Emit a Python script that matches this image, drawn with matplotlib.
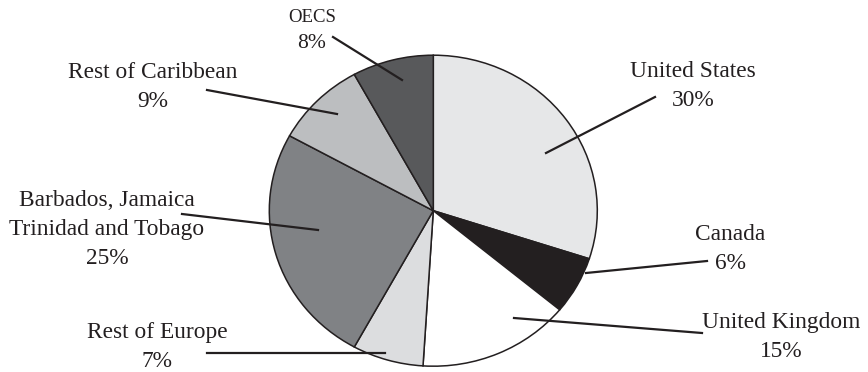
import matplotlib
matplotlib.use("Agg")
import matplotlib.pyplot as plt

# Export shares by destination, clockwise from 12 o'clock
destinations = ["United States", "Canada", "United Kingdom", "Rest of Europe",
                "Barbados, Jamaica\nTrinidad and Tobago", "Rest of Caribbean", "OECS"]
shares = [30, 6, 15, 7, 25, 9, 8]

wedge_colors = ["#e6e7e8", "#231f20", "#ffffff", "#dcdddf",
                "#808285", "#bcbec0", "#58595b"]
ink = "#231f20"

W, H = 868, 372
fig = plt.figure(figsize=(W / 100, H / 100), dpi=100)

# pie centre and radii in pixels (image coordinates, y downward)
cx, cy = 433.3, 210.7
rx, ry = 164.0, 155.5
ax = fig.add_axes([(cx - rx) / W, (H - cy - ry) / H, 2 * rx / W, 2 * ry / H])
ax.pie(shares, colors=wedge_colors, startangle=90, counterclock=False,
       wedgeprops=dict(edgecolor=ink, linewidth=1.1))
ax.set_aspect("auto")
ax.set_xlim(-1, 1)
ax.set_ylim(-1, 1)
ax.axis("off")

# label placement: text centre, leader start (near text), leader end (inside wedge)
layout = {
    "United States": ((693, 86), (655, 97), (546, 153)),
    "Canada": ((730, 249), (707, 261), (586, 273)),
    "United Kingdom": ((781, 337), (702, 333), (514, 318)),
    "Rest of Europe": ((157, 347), (207, 353), (385, 353)),
    "Barbados, Jamaica\nTrinidad and Tobago": ((107, 229), (182, 214), (318, 230)),
    "Rest of Caribbean": ((153, 87), (207, 90), (337, 114)),
    "OECS": ((312, 30), (333, 37), (402, 80)),
}

serif = ["Liberation Serif", "DejaVu Serif"]


def fig_px(x, y):
    return (x / W, (H - y) / H)


for name, share in zip(destinations, shares):
    (tx, ty), (lx0, ly0), (lx1, ly1) = layout[name]
    if name == "OECS":
        fig.text(*fig_px(tx, 17), "OECS", ha="center", va="center",
                 fontsize=13.5, family=serif, color=ink)
        fig.text(*fig_px(tx, 43), f"{share}%", ha="center", va="center",
                 fontsize=15.5, family=serif, color=ink)
    else:
        fig.text(*fig_px(tx, ty), f"{name}\n{share}%", ha="center", va="center",
                 fontsize=16.8, family=serif, color=ink, linespacing=1.5)
    x0, y0 = fig_px(lx0, ly0)
    x1, y1 = fig_px(lx1, ly1)
    fig.add_artist(plt.Line2D([x0, x1], [y0, y1], transform=fig.transFigure,
                              color=ink, linewidth=1.6))

fig.savefig("out.png", dpi=100, facecolor="white")
